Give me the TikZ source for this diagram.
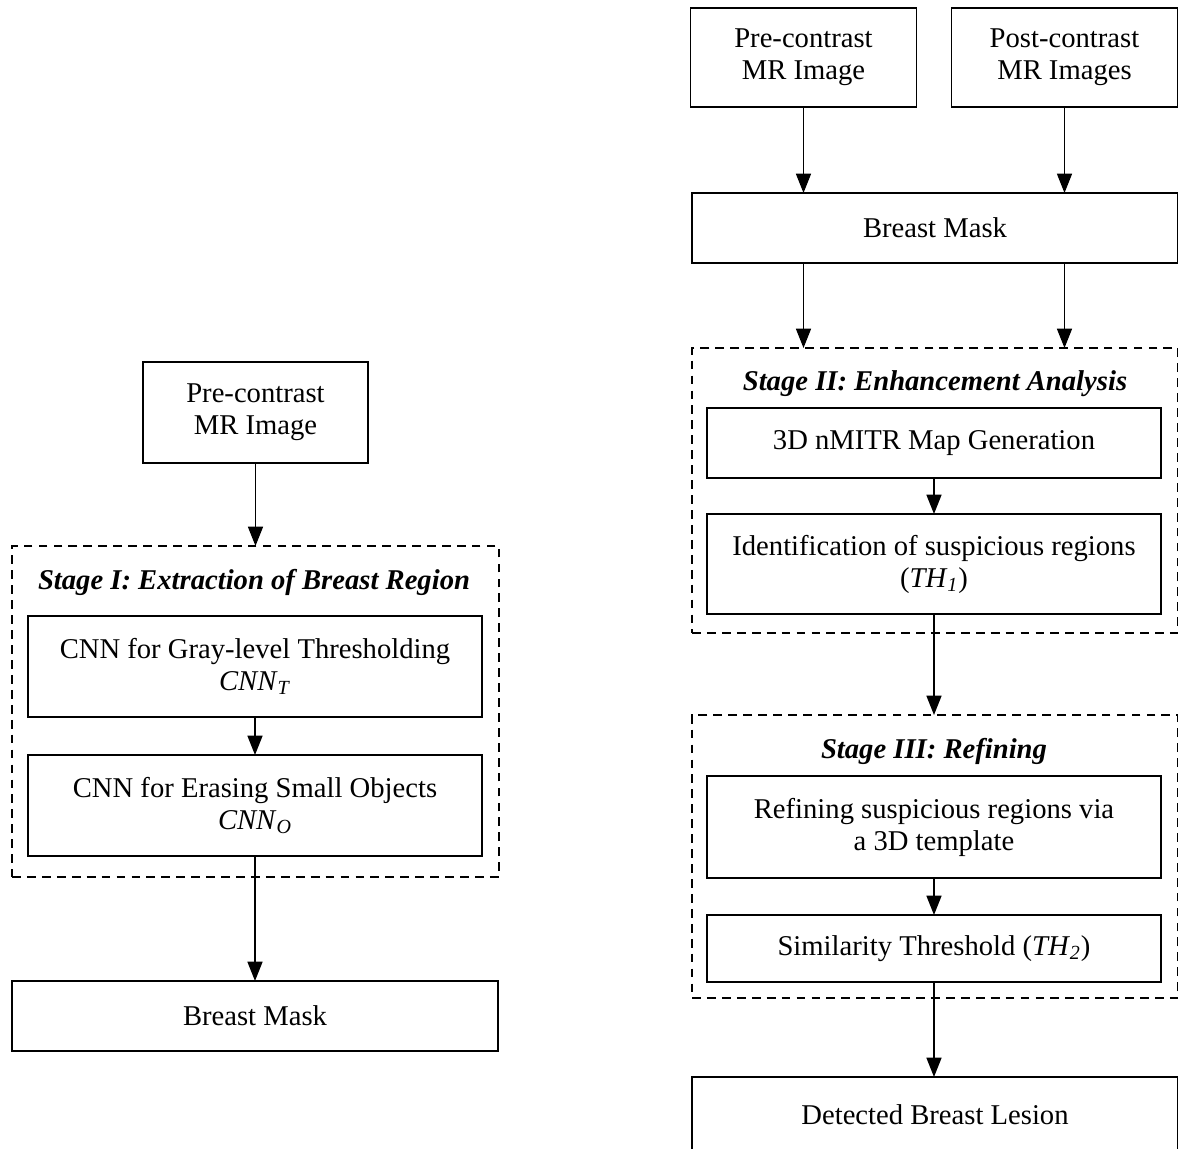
\documentclass[tikz,border=0pt]{standalone}
\usepackage{fontspec}
\setmainfont{Liberation Serif}
\usetikzlibrary{arrows.meta}

\begin{document}
\begin{tikzpicture}[x=0.02cm,y=-0.02cm,->,>={Triangle[length=11pt,width=8.5pt]},line width=0.9pt,
                    font=\fontsize{16.3}{18.2}\selectfont]
	\tikzstyle{box}=[draw,align=center,inner sep=0pt,outer sep=0pt]
	\tikzstyle{stagebox}=[draw,dashed,dash pattern=on 5pt off 3.5pt,inner sep=0pt,outer sep=0pt]
	\tikzstyle{title}=[font=\fontsize{16.3}{18.2}\selectfont\bfseries\itshape]

	\useasboundingbox (0,0) rectangle (1178,1149);

	% left: stage I
	\node[box,minimum width=4.5cm,minimum height=2.02cm]     (preL)   at (255.5,412.5) {Pre-contrast \\ MR Image};
	\node[stagebox,minimum width=9.74cm,minimum height=6.62cm] (stageA) at (255.5,711.5) {};
	\node[title]                                                (titleA) at (254,582)     {Stage I: Extraction of Breast Region};
	\node[box,minimum width=9.08cm,minimum height=2.02cm]     (cnnT)   at (255,666.5)   {CNN for Gray-level Thresholding \\ \textit{CNN}\textsubscript{\textit{T}}};
	\node[box,minimum width=9.08cm,minimum height=2.02cm]     (cnnO)   at (255,805.5)   {CNN for Erasing Small Objects \\ \textit{CNN}\textsubscript{\textit{O}}};
	\node[box,minimum width=9.72cm,minimum height=1.4cm]      (maskL)  at (255,1016)    {Breast Mask};

	% right: stages II and III
	\node[box,minimum width=4.52cm,minimum height=1.98cm]     (preR)   at (803.5,57.5)  {Pre-contrast \\ MR Image};
	\node[box,minimum width=4.52cm,minimum height=1.98cm]     (postR)  at (1064.5,57.5) {Post-contrast \\ MR Images};
	\node[box,minimum width=9.72cm,minimum height=1.4cm]      (maskR)  at (935,228)     {Breast Mask};
	\node[stagebox,minimum width=9.72cm,minimum height=5.7cm] (stageB) at (935,490.5)   {};
	\node[title]                                                (titleB) at (935,384)     {Stage II: Enhancement Analysis};
	\node[box,minimum width=9.08cm,minimum height=1.4cm]      (nmitr)  at (934,443)     {3D nMITR Map Generation};
	\node[box,minimum width=9.08cm,minimum height=2.0cm]      (ident)  at (934,564)     {Identification of suspicious regions \\ (\textit{TH}\textsubscript{\textit{1}})};
	\node[stagebox,minimum width=9.72cm,minimum height=5.66cm] (stageC) at (935,856.5) {};
	\node[title]                                                (titleC) at (934,751)     {Stage III: Refining};
	\node[box,minimum width=9.08cm,minimum height=2.04cm]     (refine) at (934,827)     {Refining suspicious regions via \\ a 3D template};
	\node[box,minimum width=9.08cm,minimum height=1.34cm]     (simil)  at (934,948.5)   {Similarity Threshold (\textit{TH}\textsubscript{\textit{2}})};
	\node[box,minimum width=9.72cm,minimum height=1.5cm]      (detect) at (935,1114.5)  {Detected Breast Lesion};

	\draw (preL) -- (stageA);
	\draw (cnnT) -- (cnnO);
	\draw (cnnO) -- (maskL);

	\draw (preR.south)  -- (preR.south |- maskR.north);
	\draw (postR.south) -- (postR.south |- maskR.north);
	\draw (preR.south |- maskR.south)  -- (preR.south |- stageB.north);
	\draw (postR.south |- maskR.south) -- (postR.south |- stageB.north);
	\draw (nmitr) -- (ident);
	\draw (ident.south) -- (ident.south |- stageC.north);
	\draw (refine) -- (simil);
	\draw (simil.south) -- (simil.south |- detect.north);
\end{tikzpicture}
\end{document}
